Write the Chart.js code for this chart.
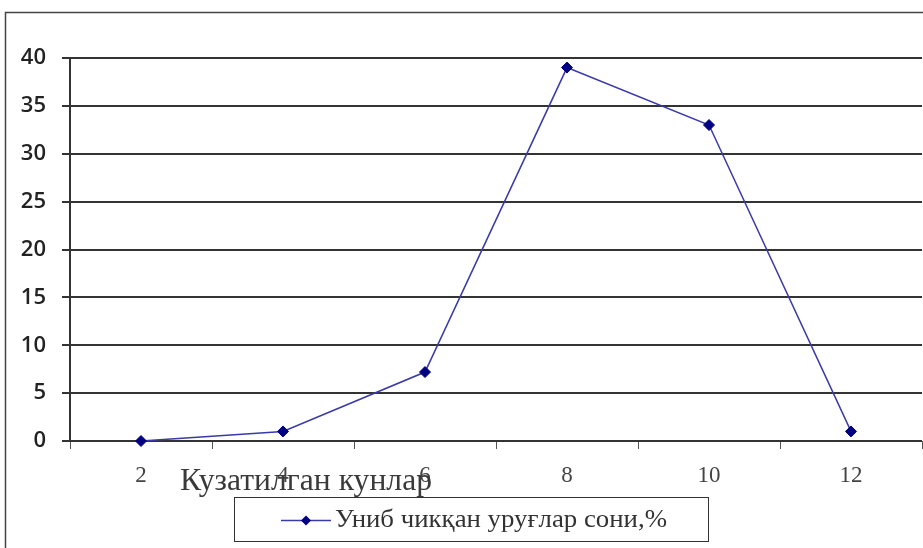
<!DOCTYPE html>
<html>
<head>
<meta charset="utf-8">
<script src="https://cdn.jsdelivr.net/npm/chart.js@4/dist/chart.umd.min.js"></script>
<style>
  html, body { margin: 0; padding: 0; background: #fff; }
  #wrap { width: 923px; height: 548px; position: relative; }
</style>
</head>
<body>
<div id="wrap"><canvas id="c" width="923" height="548"></canvas></div>
<script>
// Observation days and share of germinated seeds (%)
const days = ['2', '4', '6', '8', '10', '12'];
const germinated = [0, 1, 7.2, 39, 33, 1];
const yTicks = [0, 5, 10, 15, 20, 25, 30, 35, 40];
const seriesLabel = 'Униб чикқан уруғлар сони,%';
const xTitle = 'Кузатилган кунлар';

// Draws text squeezed horizontally into a given width (narrow serif look)
function fitText(ctx, text, x, y, width) {
  const w = ctx.measureText(text).width;
  ctx.save();
  ctx.translate(x, y);
  ctx.scale(width / w, 1);
  ctx.fillText(text, 0, 0);
  ctx.restore();
}

// Frame around the whole chart, axis title and boxed legend
const decorations = {
  id: 'decorations',
  beforeDraw(chart) {
    const ctx = chart.ctx;
    ctx.save();
    ctx.fillStyle = '#fff';
    ctx.fillRect(0, 0, chart.width, chart.height);
    ctx.strokeStyle = '#444';
    ctx.lineWidth = 1.5;
    ctx.strokeRect(5.5, 12.5, chart.width + 20, chart.height + 20);
    ctx.restore();
  },
  afterDraw(chart) {
    const ctx = chart.ctx;
    const ds = chart.data.datasets[0];
    ctx.save();
    // x axis title
    ctx.font = '31px "Liberation Serif"';
    ctx.fillStyle = '#3a3a3a';
    ctx.textBaseline = 'alphabetic';
    ctx.textAlign = 'left';
    fitText(ctx, xTitle, 180, 490, 252);
    // legend box
    const bx = 234.5, by = 497.5, bw = 474, bh = 44;
    ctx.fillStyle = '#fff';
    ctx.fillRect(bx, by, bw, bh);
    ctx.strokeStyle = '#333';
    ctx.lineWidth = 1;
    ctx.strokeRect(bx, by, bw, bh);
    const cy = by + bh / 2 + 1;
    ctx.strokeStyle = ds.borderColor;
    ctx.lineWidth = 1.5;
    ctx.beginPath();
    ctx.moveTo(281, cy);
    ctx.lineTo(331, cy);
    ctx.stroke();
    ctx.fillStyle = ds.pointBackgroundColor;
    ctx.beginPath();
    ctx.moveTo(306, cy - 5);
    ctx.lineTo(311, cy);
    ctx.lineTo(306, cy + 5);
    ctx.lineTo(301, cy);
    ctx.closePath();
    ctx.fill();
    ctx.font = '25px "Liberation Serif"';
    ctx.fillStyle = '#333';
    ctx.textBaseline = 'alphabetic';
    fitText(ctx, ds.label, 335, 527, 332);
    ctx.restore();
  }
};

new Chart(document.getElementById('c'), {
  type: 'line',
  data: {
    labels: days,
    datasets: [{
      label: seriesLabel,
      data: germinated,
      borderColor: '#3a3aa8',
      borderWidth: 1.5,
      pointStyle: 'rectRot',
      pointRadius: 5.5,
      pointHoverRadius: 5.5,
      pointBackgroundColor: '#000080',
      pointBorderColor: '#000080',
      pointBorderWidth: 1,
      tension: 0,
      fill: false,
      clip: false
    }]
  },
  options: {
    responsive: false,
    animation: false,
    events: [],
    layout: { autoPadding: false, padding: { top: 58, right: 1, left: 0, bottom: 0 } },
    plugins: {
      legend: { display: false },
      tooltip: { enabled: false },
      title: { display: false }
    },
    scales: {
      x: {
        type: 'category',
        offset: true,
        grid: {
          offset: true,
          drawOnChartArea: false,
          drawTicks: true,
          tickLength: 8,
          color: '#555',
          lineWidth: 1
        },
        border: { display: false },
        ticks: {
          padding: 13,
          color: '#444',
          font: { family: '"Liberation Serif"', size: 23 },
          maxRotation: 0
        },
        afterFit(scale) {
          scale.height = 107;
          scale.paddingLeft = 0;
          scale.paddingRight = 0;
        }
      },
      y: {
        min: 0,
        max: 40,
        afterBuildTicks(scale) { scale.ticks = yTicks.map(v => ({ value: v })); },
        grid: {
          color: '#333',
          lineWidth: 2,
          drawTicks: true,
          tickLength: 8
        },
        border: { display: true, color: '#333', width: 2 },
        ticks: {
          padding: 16,
          color: '#222',
          font: { family: '"Open Sans"', size: 22, weight: '600' }
        },
        afterFit(scale) {
          scale.width = 70;
          scale.paddingTop = 0;
          scale.paddingBottom = 0;
        }
      }
    }
  },
  plugins: [decorations]
});
</script>
</body>
</html>
